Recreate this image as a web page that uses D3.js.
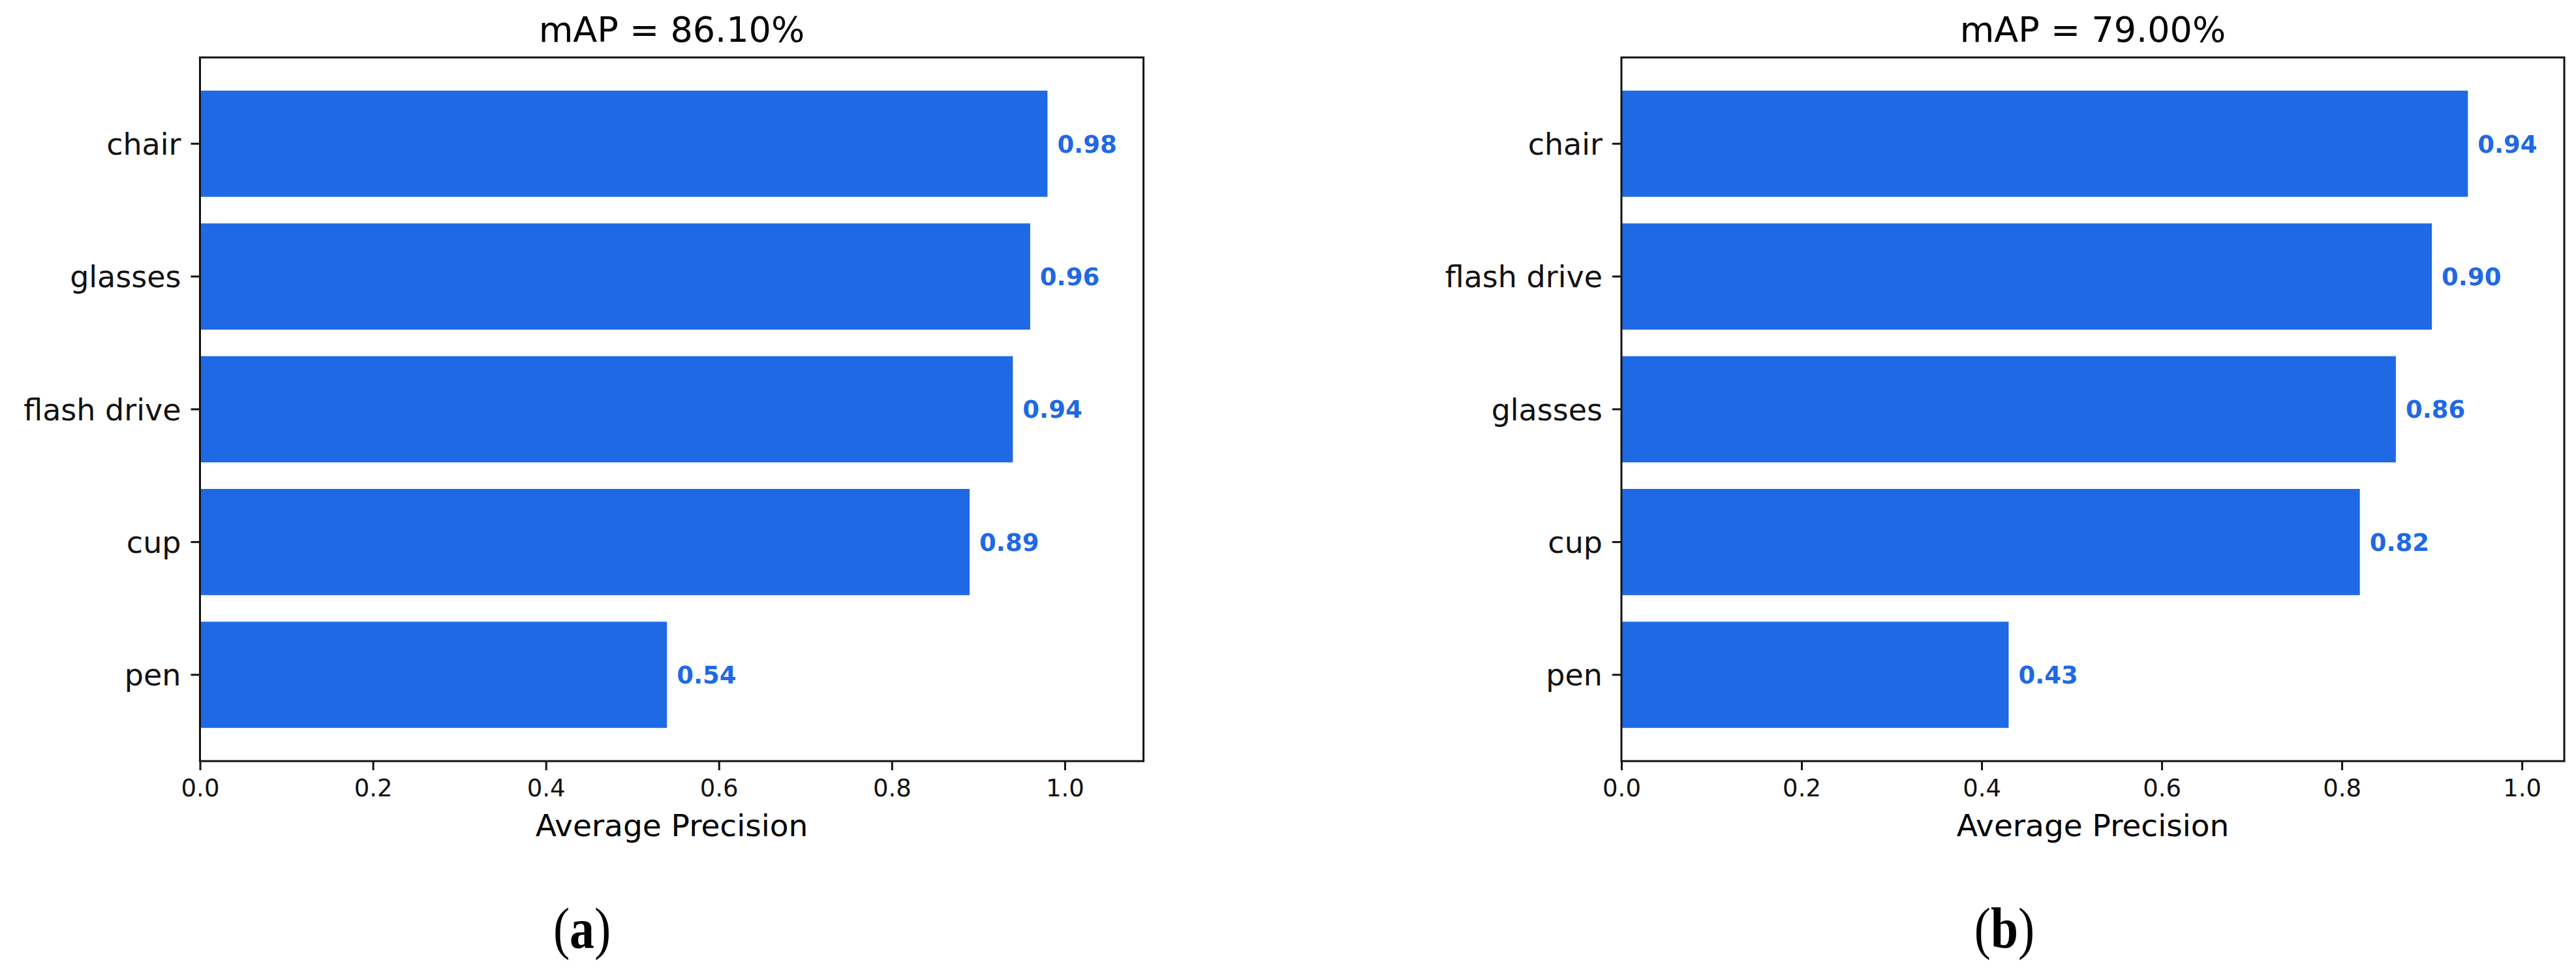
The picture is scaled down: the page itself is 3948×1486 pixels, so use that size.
<!DOCTYPE html>
<html>
<head>
<meta charset="utf-8">
<script src="https://cdn.jsdelivr.net/npm/d3@7.9.0/dist/d3.min.js"></script>
<style>
  body { margin: 0; background: #fff; }
  svg { display: block; }
  text { font-family: "DejaVu Sans", sans-serif; fill: #000; }
</style>
</head>
<body>
<svg id="chart" width="3948" height="1486"></svg>
<script>
// chart (a)
const categoriesA = ["chair", "glasses", "flash drive", "cup", "pen"];
const valuesA = [0.98, 0.96, 0.94, 0.89, 0.54];
const titleA = "mAP = 86.10%";

// chart (b)
const categoriesB = ["chair", "flash drive", "glasses", "cup", "pen"];
const valuesB = [0.94, 0.90, 0.86, 0.82, 0.43];
const titleB = "mAP = 79.00%";

const xTicks = [0, 0.2, 0.4, 0.6, 0.8, 1.0];
const xLabel = "Average Precision";

const barColor = "#1f69e4";
const svg = d3.select("#chart");

function drawPanel({ left, width, xMax, categories, values, title, tag, tagX }) {
  const top = 88, height = 1078;
  const g = svg.append("g").attr("transform", `translate(${left},${top})`);

  const x = d3.scaleLinear().domain([0, xMax]).range([0, width]);
  const y = d3.scaleBand().domain(categories).range([0, height])
    .paddingInner(0.2).paddingOuter(0.25);

  g.selectAll("rect.bar")
    .data(values)
    .join("rect")
    .attr("class", "bar")
    .attr("x", 0)
    .attr("y", (d, i) => y(categories[i]))
    .attr("width", (d) => x(d))
    .attr("height", y.bandwidth())
    .attr("fill", barColor);

  g.selectAll("text.val")
    .data(values)
    .join("text")
    .attr("class", "val")
    .attr("x", (d) => x(d) + 15)
    .attr("y", (d, i) => y(categories[i]) + y.bandwidth() / 2)
    .attr("dy", "0.36em")
    .attr("font-size", 37)
    .attr("font-weight", "bold")
    .style("fill", barColor)
    .text((d) => d.toFixed(2));

  const xAxis = g.append("g")
    .attr("transform", `translate(0,${height})`)
    .call(d3.axisBottom(x).tickValues(xTicks).tickFormat(d3.format(".1f"))
      .tickSize(14).tickPadding(14).tickSizeOuter(0));
  const yAxis = g.append("g")
    .call(d3.axisLeft(y).tickSize(14).tickPadding(15).tickSizeOuter(0));

  [xAxis, yAxis].forEach((a) => {
    a.select(".domain").remove();
    a.selectAll("line").attr("stroke", "#111").attr("stroke-width", 3);
    a.selectAll("text").style("font-family", '"DejaVu Sans", sans-serif').style("fill", "#111");
  });
  xAxis.selectAll("text").attr("font-size", 37);
  yAxis.selectAll("text").attr("font-size", 46).attr("dy", "0.36em");

  // frame
  g.append("rect")
    .attr("width", width).attr("height", height)
    .attr("fill", "none").attr("stroke", "#111").attr("stroke-width", 3);

  g.append("text")
    .attr("x", width / 2).attr("y", -24)
    .attr("text-anchor", "middle")
    .attr("font-size", 54)
    .text(title);

  g.append("text")
    .attr("x", width / 2).attr("y", 1281 - top)
    .attr("text-anchor", "middle")
    .attr("font-size", 47)
    .text(xLabel);

  const t = svg.append("text")
    .attr("transform", `translate(${tagX},1452) scale(0.86,1)`)
    .attr("text-anchor", "middle")
    .attr("font-size", 88)
    .style("font-family", '"Liberation Serif", "Times New Roman", serif');
  t.append("tspan").text("(");
  t.append("tspan").attr("font-weight", "bold").text(tag);
  t.append("tspan").text(")");
}

drawPanel({ left: 306.5, width: 1446, xMax: 1.091, categories: categoriesA, values: valuesA,
  title: titleA, tag: "a", tagX: 892 });
drawPanel({ left: 2485, width: 1445, xMax: 1.047, categories: categoriesB, values: valuesB,
  title: titleB, tag: "b", tagX: 3072 });
</script>
</body>
</html>
